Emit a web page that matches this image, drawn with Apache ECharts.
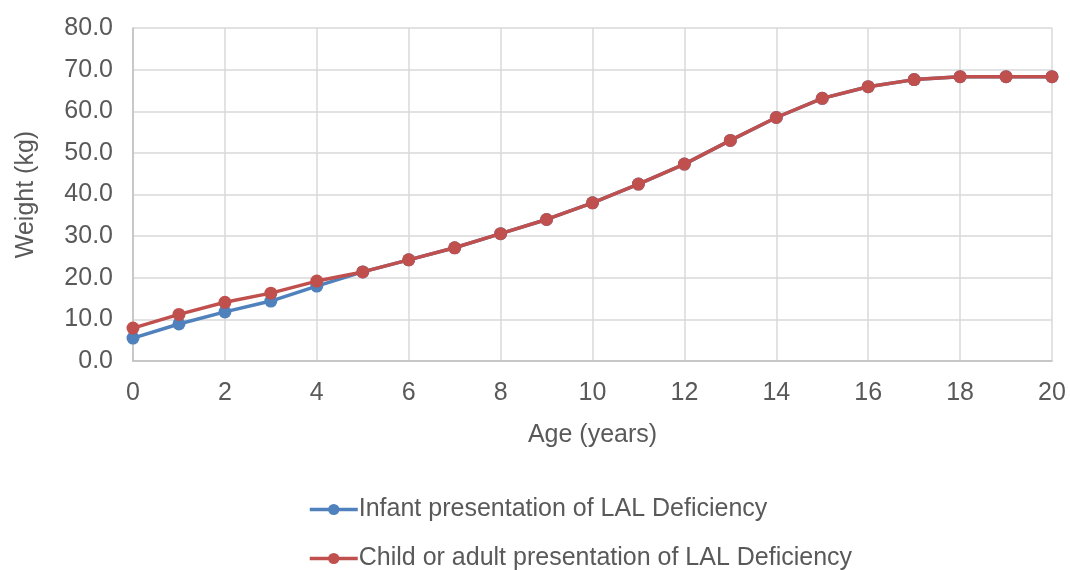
<!DOCTYPE html>
<html>
<head>
<meta charset="utf-8">
<script src="https://cdn.jsdelivr.net/npm/echarts@6/dist/echarts.min.js"></script>
<style>
  html, body { margin: 0; padding: 0; background: #fff; }
  #chart { width: 1070px; height: 570px; }
</style>
</head>
<body>
<div id="chart"></div>
<script>
// ages in years
const ages = [0, 1, 2, 3, 4, 5, 6, 7, 8, 9, 10, 11, 12, 13, 14, 15, 16, 17, 18, 19, 20]
// weight (kg)
const infantWeight = [5.5, 8.9, 11.8, 14.4, 18.0, 21.4, 24.3, 27.2, 30.6, 34.0, 38.0, 42.5, 47.3, 53.0, 58.5, 63.1, 65.9, 67.6, 68.3, 68.3, 68.3]
const childWeight = [7.9, 11.2, 14.1, 16.3, 19.2, 21.4, 24.3, 27.2, 30.6, 34.0, 38.0, 42.5, 47.3, 53.0, 58.5, 63.1, 65.9, 67.6, 68.3, 68.3, 68.3]
const seriesNames = ['Infant presentation of LAL Deficiency', 'Child or adult presentation of LAL Deficiency']

const chart = echarts.init(document.getElementById('chart'))
const font = 'Liberation Sans, Arial, sans-serif'

function pairs(vals) {
  return ages.map((a, i) => [a, vals[i]])
}

// one legend per row, so they stack like the original
function legendRow(name, top) {
  return {
    left: 303,
    top: top,
    itemWidth: 48,
    itemHeight: 14,
    lineStyle: { width: 3.5 },
    textStyle: { fontSize: 25, color: '#595959', fontFamily: font, padding: [0, 0, 0, -4] },
    data: [name]
  }
}

const option = {
  animation: false,
  textStyle: { fontFamily: font },
  grid: { left: 133, right: 18, top: 28, bottom: 209 },
  xAxis: {
    type: 'value',
    min: 0,
    max: 20,
    interval: 2,
    name: 'Age (years)',
    nameLocation: 'middle',
    nameGap: 62,
    nameTextStyle: { fontSize: 25, color: '#595959', fontFamily: font },
    axisLine: { show: true, lineStyle: { color: '#bfbfbf', width: 1.5 } },
    axisTick: { show: false },
    axisLabel: { fontSize: 25, color: '#595959', fontFamily: font, margin: 20 },
    splitLine: { show: true, lineStyle: { color: '#d9d9d9', width: 1.5 } }
  },
  yAxis: {
    type: 'value',
    min: 0,
    max: 80,
    interval: 10,
    name: 'Weight (kg)',
    nameLocation: 'middle',
    nameGap: 94,
    nameTextStyle: { fontSize: 25, color: '#595959', fontFamily: font },
    axisLine: { show: true, lineStyle: { color: '#bfbfbf', width: 1.5 } },
    axisTick: { show: false },
    axisLabel: {
      fontSize: 25, color: '#595959', fontFamily: font, margin: 20,
      formatter: v => v.toFixed(1)
    },
    splitLine: { show: true, lineStyle: { color: '#d9d9d9', width: 1.5 } }
  },
  legend: [
    legendRow(seriesNames[0], 492),
    legendRow(seriesNames[1], 541)
  ],
  series: [
    {
      name: seriesNames[0],
      type: 'line',
      data: pairs(infantWeight),
      color: '#4f81bd',
      symbol: 'circle',
      symbolSize: 13,
      lineStyle: { width: 3.5 },
      z: 2
    },
    {
      name: seriesNames[1],
      type: 'line',
      data: pairs(childWeight),
      color: '#c0504d',
      symbol: 'circle',
      symbolSize: 13,
      lineStyle: { width: 3.5 },
      z: 3
    }
  ]
}
chart.setOption(option)
</script>
</body>
</html>
